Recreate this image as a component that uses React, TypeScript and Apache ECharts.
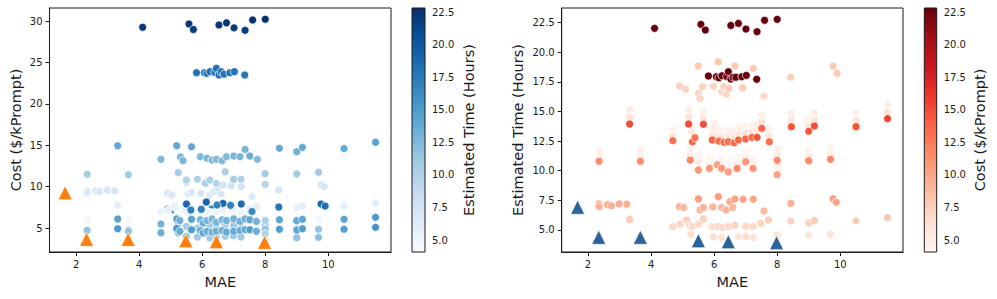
import React, { useEffect, useRef } from "react";
import * as echarts from "echarts";

// Each point: [MAE, cost ($/kPrompt), estimated time (hours)]
const hiddenSlowPoints = [
  [4.9, 7.3, 17.15], [5.1, 7.2, 16.87], [5.5, 7.1, 16.54], [5.55, 7.0, 16.1],
  [6.24, 7.2, 16.67], [6.38, 7.1, 16.48], [6.31, 7.3, 17.1],
];
const fastPaleBand = [
  [2.35, 6.05, 4.5], [3.66, 6.0, 4.5], [3.32, 7.78, 5.88], [4.69, 6.97, 5.28],
  [4.92, 7.2, 5.48], [5.13, 7.6, 5.84], [5.22, 7.1, 5.42], [5.3, 6.8, 5.3],
  [5.5, 7.0, 5.5], [5.66, 7.4, 5.93], [5.26, 6.5, 4.64], [5.92, 7.0, 5.3],
  [5.98, 6.8, 5.25], [6.13, 7.1, 5.28], [6.26, 6.9, 5.2], [6.45, 7.0, 5.3],
  [6.66, 7.2, 5.4], [7.0, 7.0, 5.3], [7.24, 6.9, 5.3], [7.48, 7.3, 5.56],
  [7.72, 7.6, 5.84], [5.97, 6.4, 4.44], [6.24, 6.2, 4.35], [6.77, 6.3, 4.44],
  [7.0, 6.5, 4.44], [7.24, 6.1, 4.35], [8.0, 6.09, 4.58], [8.43, 7.3, 5.76],
  [9.0, 7.46, 5.59], [9.0, 5.5, 4.58], [9.18, 7.66, 5.79], [9.69, 6.09, 4.64],
  [10.5, 7.66, 5.76], [11.5, 8.06, 6.04],
];
const midTimeBand = [
  [2.35, 9.5, 7.2], [2.35, 9.3, 6.97], [2.62, 9.5, 7.15], [2.74, 9.4, 7.05],
  [2.99, 9.6, 7.2], [3.23, 9.5, 7.18], [4.9, 9.2, 6.97], [5.03, 9.0, 6.89],
  [5.5, 10.5, 7.62], [5.55, 9.1, 6.69], [5.66, 9.3, 6.89], [5.96, 9.2, 6.94],
  [6.13, 10.6, 7.81], [6.24, 9.0, 6.89], [6.38, 9.4, 6.69], [6.5, 9.8, 7.39],
  [6.59, 9.1, 6.89], [6.66, 10.2, 7.62], [6.92, 10.1, 7.59], [7.24, 10.0, 7.59],
  [7.58, 8.8, 6.6], [8.43, 9.6, 7.25], [9.77, 10.2, 7.64], [9.87, 10.0, 7.34],
];
const orangeCompanions = [
  [2.35, 4.76, 11.25], [2.35, 4.7, 11.7], [3.66, 4.75, 11.25], [3.66, 4.6, 11.7],
  [5.24, 5.5, 11.33], [5.24, 4.4, 11.75], [5.5, 5.2, 10.76], [5.5, 4.0, 11.33],
  [5.85, 5.0, 10.63], [5.85, 3.9, 11.05], [6.24, 5.3, 10.63], [6.24, 3.8, 11.05],
  [6.45, 5.1, 10.2], [6.45, 3.9, 10.6], [6.73, 5.4, 10.63], [6.73, 4.0, 11.05],
  [7.0, 5.3, 11.2], [7.0, 4.1, 11.6], [7.23, 5.0, 10.63], [7.23, 3.9, 11.05],
  [8.0, 5.4, 11.33], [8.0, 4.84, 11.8], [8.0, 5.9, 10.43], [8.0, 4.3, 10.06],
  [9.0, 4.9, 11.27], [9.0, 3.83, 11.75], [9.69, 4.84, 11.41], [9.69, 3.87, 11.9],
];
const redCompanions = [
  [3.32, 6.09, 14.5], [3.32, 4.92, 15.13], [5.19, 6.1, 14.56], [5.19, 4.95, 15.13],
  [5.66, 6.05, 14.43], [5.66, 4.8, 14.98], [4.69, 5.48, 13.0], [4.69, 4.43, 13.5],
  [5.29, 5.9, 13.3], [5.29, 4.6, 13.78], [5.94, 6.0, 13.05], [5.94, 4.7, 13.55],
  [6.03, 5.6, 13.58], [6.03, 4.4, 14.05], [6.15, 5.9, 13.0], [6.15, 4.6, 13.5],
  [6.31, 6.1, 12.9], [6.31, 4.5, 13.38], [6.45, 5.7, 12.95], [6.45, 4.6, 13.45],
  [6.63, 6.0, 12.85], [6.63, 4.7, 13.35], [6.77, 5.9, 13.1], [6.77, 4.5, 13.6],
  [7.0, 6.1, 13.16], [7.0, 4.6, 13.78], [7.2, 5.8, 13.3], [7.2, 4.7, 13.8],
  [7.36, 6.1, 13.38], [7.36, 4.8, 13.9], [7.51, 6.0, 14.14], [7.51, 4.8, 14.7],
  [7.72, 5.8, 13.0], [7.72, 4.6, 13.5], [8.45, 6.0, 14.26], [8.45, 4.84, 14.85],
  [9.0, 5.89, 13.86], [9.0, 4.76, 14.37], [9.18, 6.05, 14.28], [9.18, 4.92, 14.9],
  [10.5, 6.05, 14.28], [10.5, 4.85, 14.9], [11.5, 6.29, 14.93], [11.5, 5.08, 15.55],
];
const orangePoints = [
  [2.35, 11.5, 10.8], [3.66, 11.45, 10.8], [5.24, 11.7, 10.9], [5.5, 10.8, 10.06],
  [5.85, 10.9, 10.2], [6.1, 10.4, 10.5], [6.24, 10.8, 10.2], [6.45, 10.4, 9.9],
  [6.73, 11.8, 10.2], [7.0, 10.9, 10.76], [7.23, 10.9, 10.2], [8.0, 11.57, 10.88],
  [8.0, 10.28, 9.67], [9.0, 11.53, 10.85], [9.69, 11.73, 10.96],
];
const redPoints = [
  [3.32, 14.95, 13.95], [5.19, 14.95, 13.95], [5.66, 14.83, 13.92], [4.69, 13.3, 12.54],
  [5.31, 13.6, 12.45], [5.39, 13.14, 12.79], [5.94, 13.62, 12.6], [6.15, 13.43, 12.5],
  [6.31, 13.22, 12.4], [6.45, 13.3, 12.45], [6.63, 13.14, 12.35], [6.77, 13.62, 12.6],
  [7.0, 13.7, 12.68], [7.2, 13.62, 12.82], [7.36, 14.5, 12.82], [7.51, 13.7, 13.58],
  [7.75, 13.3, 12.45], [8.45, 14.64, 13.72], [9.0, 14.23, 13.33], [9.18, 14.75, 13.78],
  [10.5, 14.6, 13.72], [11.5, 15.36, 14.4],
];
const slowCheapPoints = [
  [5.5, 7.9, 18.84], [6.13, 8.14, 19.2], [6.66, 7.98, 18.84], [7.24, 7.9, 18.64],
  [5.97, 7.26, 17.15], [6.47, 7.78, 16.96], [5.64, 7.18, 17.1], [6.9, 7.74, 17.0],
  [7.58, 7.0, 16.3], [8.43, 7.54, 17.9], [9.77, 7.9, 18.84], [9.9, 7.66, 18.22],
];
const cost24Cluster = [
  [5.82, 23.78, 18.0], [6.07, 23.78, 17.94], [6.15, 23.7, 17.85], [6.25, 23.9, 18.02],
  [6.4, 23.8, 17.95], [6.45, 24.3, 18.36], [6.53, 23.5, 17.74], [6.6, 23.9, 17.9],
  [6.69, 23.6, 17.89], [6.88, 23.78, 17.94], [7.02, 23.9, 18.05], [7.35, 23.5, 17.72],
];
const cost30Row = [
  [4.11, 29.27, 22.02], [5.58, 29.67, 22.36], [5.72, 29.0, 21.88], [6.53, 29.55, 22.27],
  [6.77, 29.8, 22.44], [7.01, 29.2, 21.96], [7.36, 28.9, 21.74], [7.6, 30.15, 22.7],
  [8.0, 30.24, 22.78],
];

// Pareto points: [MAE, cost] and [MAE, time]
const costFrontier = [[1.65, 9.25], [2.33, 3.63], [3.65, 3.63], [5.48, 3.46], [6.45, 3.34], [7.98, 3.27]];
const timeFrontier = [[1.67, 6.92], [2.34, 4.38], [3.66, 4.38], [5.5, 4.1], [6.45, 4.01], [7.98, 3.93]];

const xTicks = [2, 4, 6, 8, 10];
const costTicks = [5, 10, 15, 20, 25, 30];
const timeTicks = [5, 7.5, 10, 12.5, 15, 17.5, 20, 22.5];
const colorTicks = [5, 7.5, 10, 12.5, 15, 17.5, 20, 22.5];
const colorRange = [4.08, 22.83];

const blues = ["#f7fbff", "#deebf7", "#c6dbef", "#9ecae1", "#6baed6", "#4292c6", "#2171b5", "#08519c", "#08306b"];
const reds = ["#fff5f0", "#fee0d2", "#fcbba1", "#fc9272", "#fb6a4a", "#ef3b2c", "#cb181d", "#a50f15", "#67000d"];

const allPoints = [
  ...hiddenSlowPoints, ...fastPaleBand, ...midTimeBand, ...orangeCompanions,
  ...redCompanions, ...orangePoints, ...redPoints, ...slowCheapPoints,
  ...cost24Cluster, ...cost30Row,
];

const FONT = "DejaVu Sans";
const INK = "#1a1a1a";

function axisBase(ticks: number[] | null, fmt?: (v: number) => string) {
  return {
    axisLine: { show: true, onZero: false, lineStyle: { color: INK, width: 1 } },
    axisTick: ticks
      ? { show: true, length: 4, customValues: ticks, lineStyle: { color: INK, width: 1 } }
      : { show: false },
    axisLabel: ticks
      ? { show: true, customValues: ticks, color: INK, fontSize: 10, fontFamily: FONT, margin: 7, formatter: fmt }
      : { show: false },
    splitLine: { show: false },
    nameTextStyle: { fontSize: 14.5, color: INK, fontFamily: FONT },
  };
}

function colorbarSeries(xi: number, yi: number, colors: string[]) {
  return {
    type: "custom",
    xAxisIndex: xi,
    yAxisIndex: yi,
    silent: true,
    data: [[0, colorRange[0], colorRange[1]]],
    encode: { x: 0, y: [1, 2] },
    renderItem: (_p: any, api: any) => {
      const bl = api.coord([0, api.value(1)]);
      const tr = api.coord([1, api.value(2)]);
      return {
        type: "rect",
        shape: { x: bl[0], y: tr[1], width: tr[0] - bl[0], height: bl[1] - tr[1] },
        style: {
          fill: new echarts.graphic.LinearGradient(
            0, 1, 0, 0,
            colors.map((c, i) => ({ offset: i / (colors.length - 1), color: c }))
          ),
          stroke: INK,
          lineWidth: 1,
        },
      };
    },
  };
}

export default function App() {
  const ref = useRef<HTMLDivElement>(null);
  useEffect(() => {
    if (!ref.current) return;
    const chart = echarts.init(ref.current, null, { renderer: "svg" });
    const f1 = (v: number) => v.toFixed(1);
    const f0 = (v: number) => String(v);
    const dot = {
      symbolSize: 8,
      itemStyle: { borderColor: "#ffffff", borderWidth: 0.7, opacity: 1 },
    };
    const tri = (color: string) => ({
      symbol: "triangle",
      symbolSize: 14,
      z: 5,
      itemStyle: { color, borderColor: "#ffffff", borderWidth: 0.6, opacity: 1 },
    });
    chart.setOption({
      animation: false,
      backgroundColor: "#ffffff",
      grid: [
        { left: 49.5, top: 8, width: 341.5, height: 244, show: true, borderColor: INK, borderWidth: 1, backgroundColor: "transparent" },
        { left: 412, top: 8, width: 13, height: 244 },
        { left: 561.7, top: 8, width: 341.3, height: 244, show: true, borderColor: INK, borderWidth: 1, backgroundColor: "transparent" },
        { left: 924.3, top: 8, width: 12.4, height: 244 },
      ],
      xAxis: [
        { type: "value", gridIndex: 0, min: 1.155, max: 11.99, name: "MAE", nameLocation: "middle", nameGap: 22, ...axisBase(xTicks, f0) },
        { type: "value", gridIndex: 1, min: 0, max: 1, show: false },
        { type: "value", gridIndex: 2, min: 1.165, max: 11.99, name: "MAE", nameLocation: "middle", nameGap: 22, ...axisBase(xTicks, f0) },
        { type: "value", gridIndex: 3, min: 0, max: 1, show: false },
      ],
      yAxis: [
        { type: "value", gridIndex: 0, min: 2.1, max: 31.6, name: "Cost ($/kPrompt)", nameLocation: "middle", nameGap: 26, nameRotate: 90, ...axisBase(costTicks, f0) },
        { type: "value", gridIndex: 1, position: "right", min: colorRange[0], max: colorRange[1], name: "Estimated Time (Hours)", nameLocation: "middle", nameGap: 36, nameRotate: 90, ...axisBase(colorTicks, f1), axisLine: { show: false } },
        { type: "value", gridIndex: 2, min: 3.14, max: 23.74, name: "Estimated Time (Hours)", nameLocation: "middle", nameGap: 36, nameRotate: 90, ...axisBase(timeTicks, f1) },
        { type: "value", gridIndex: 3, position: "right", min: colorRange[0], max: colorRange[1], name: "Cost ($/kPrompt)", nameLocation: "middle", nameGap: 36, nameRotate: 90, ...axisBase(colorTicks, f1), axisLine: { show: false } },
      ],
      visualMap: [
        { type: "continuous", show: false, seriesIndex: 0, dimension: 2, min: colorRange[0], max: colorRange[1], inRange: { color: blues } },
        { type: "continuous", show: false, seriesIndex: 1, dimension: 2, min: colorRange[0], max: colorRange[1], inRange: { color: reds } },
      ],
      series: [
        { type: "scatter", xAxisIndex: 0, yAxisIndex: 0, data: allPoints.map((p) => [p[0], p[1], p[2]]), ...dot },
        { type: "scatter", xAxisIndex: 2, yAxisIndex: 2, data: allPoints.map((p) => [p[0], p[2], p[1]]), ...dot },
        { type: "scatter", xAxisIndex: 0, yAxisIndex: 0, data: costFrontier, ...tri("#ff7f0e") },
        { type: "scatter", xAxisIndex: 2, yAxisIndex: 2, data: timeFrontier, ...tri("#2b639b") },
        colorbarSeries(1, 1, blues),
        colorbarSeries(3, 3, reds),
      ],
    });
    return () => chart.dispose();
  }, []);
  return (
    <div
      ref={ref}
      style={{ position: "fixed", left: 0, top: 0, width: 997, height: 299, background: "#fff" }}
    />
  );
}
